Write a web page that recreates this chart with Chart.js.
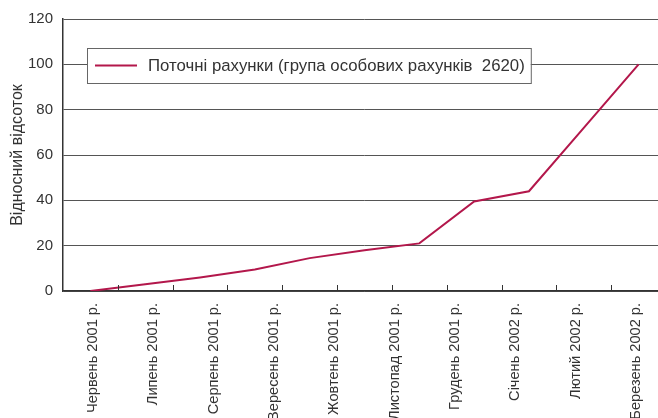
<!DOCTYPE html>
<html>
<head>
<meta charset="utf-8">
<script src="https://cdn.jsdelivr.net/npm/chart.js@4/dist/chart.umd.min.js"></script>
<style>
  html, body { margin: 0; padding: 0; background: #fff; overflow: hidden; }
  #wrap { position: relative; width: 666px; height: 418px; }
</style>
</head>
<body>
<div id="wrap"><canvas id="chart"></canvas></div>
<script>
// місяці під віссю X
const months = [
  'Червень 2001 р.', 'Липень 2001 р.', 'Серпень 2001 р.', 'Вересень 2001 р.',
  'Жовтень 2001 р.', 'Листопад 2001 р.', 'Грудень 2001 р.', 'Січень 2002 р.',
  'Лютий 2002 р.', 'Березень 2002 р.'
];
// точки спостереження ряду
const periods = ['1', '2', '3', '4', '5', '6', '7', '8', '9', '10', '11'];
// відносний відсоток, група рахунків 2620
const accounts2620 = [0, 3, 6, 9.5, 14.5, 18, 21, 39.5, 44, 72, 100];
const yTicks = [0, 20, 40, 60, 80, 100, 120];

const seriesLabel = 'Поточні рахунки (група особових рахунків  2620)';
const textFont = 'Liberation Sans, Arial, sans-serif';

// короткі засічки між точками, всередину області графіка
const innerTicks = {
    id: 'innerTicks',
    afterDatasetsDraw(chart) {
        const sx = chart.scales.x;
        const ctx = chart.ctx;
        const bottom = chart.chartArea.bottom;
        ctx.save();
        ctx.strokeStyle = '#333';
        ctx.lineWidth = 1;
        ctx.beginPath();
        for (let i = 1; i < periods.length; i++) {
            const px = Math.round((sx.getPixelForValue(i - 1) + sx.getPixelForValue(i)) / 2) + 0.5;
            ctx.moveTo(px, bottom);
            ctx.lineTo(px, bottom - 6);
        }
        ctx.stroke();
        ctx.restore();
    }
};

// легенда в рамці всередині області графіка
const boxedLegend = {
    id: 'boxedLegend',
    afterDraw(chart) {
        const ctx = chart.ctx;
        const area = chart.chartArea;
        const ds = chart.data.datasets[0];
        ctx.save();
        ctx.font = '16.8px ' + textFont;
        const tw = ctx.measureText(ds.label).width;
        const x = area.left + 24, y = area.top + 29;
        const w = tw + 67, h = 35;
        ctx.fillStyle = '#fff';
        ctx.fillRect(x, y, w, h);
        ctx.strokeStyle = '#666';
        ctx.lineWidth = 1;
        ctx.strokeRect(x + 0.5, y + 0.5, w, h);
        ctx.strokeStyle = ds.borderColor;
        ctx.lineWidth = 2;
        ctx.beginPath();
        ctx.moveTo(x + 8, y + h / 2);
        ctx.lineTo(x + 50, y + h / 2);
        ctx.stroke();
        ctx.fillStyle = '#333';
        ctx.textBaseline = 'middle';
        ctx.fillText(ds.label, x + 61, y + h / 2 + 1);
        ctx.restore();
    }
};

new Chart(document.getElementById('chart'), {
    type: 'line',
    data: {
        labels: periods,
        datasets: [{
            label: seriesLabel,
            data: accounts2620,
            borderColor: '#b3174b',
            borderWidth: 2,
            pointRadius: 0,
            tension: 0
        }]
    },
    options: {
        responsive: true,
        maintainAspectRatio: false,
        animation: false,
        layout: { padding: { top: 9, left: 0, right: 0, bottom: 0 } },
        plugins: {
            legend: { display: false },
            tooltip: { enabled: false }
        },
        scales: {
            x: {
                type: 'category',
                position: 'bottom',
                offset: true,
                grid: { display: false },
                border: { display: true, color: '#333', width: 1.5 },
                ticks: { display: false },
                afterFit(s) { s.height = 0; }
            },
            xMonths: {
                type: 'category',
                position: 'bottom',
                labels: months,
                offset: true,
                grid: { display: false },
                border: { display: false },
                ticks: {
                    autoSkip: false,
                    minRotation: 90,
                    maxRotation: 90,
                    padding: 4,
                    color: '#333',
                    font: { family: textFont, size: 14.6 }
                },
                afterFit(s) { s.height = 127; }
            },
            y: {
                min: 0,
                max: 120,
                afterBuildTicks(s) { s.ticks = yTicks.map(v => ({ value: v })); },
                grid: { color: '#555', lineWidth: 1, drawTicks: false },
                border: { display: true, color: '#333', width: 1.5 },
                ticks: {
                    padding: 10,
                    color: '#333',
                    font: { family: textFont, size: 15 }
                },
                title: {
                    display: true,
                    text: 'Відносний відсоток',
                    color: '#333',
                    padding: { top: 8, bottom: 0 },
                    font: { family: textFont, size: 16 }
                },
                afterFit(s) { s.width = 63; }
            }
        }
    },
    plugins: [innerTicks, boxedLegend]
});
</script>
</body>
</html>
